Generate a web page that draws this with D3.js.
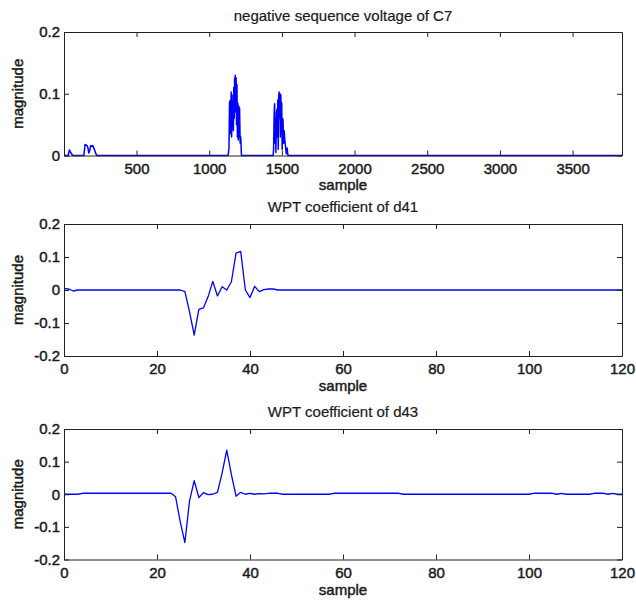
<!DOCTYPE html>
<html>
<head>
<meta charset="utf-8">
<script src="https://cdn.jsdelivr.net/npm/d3@7"></script>
<style>
  body { margin: 0; background: #fff; }
  svg text { font-family: "Liberation Sans", Arial, sans-serif; fill: #1a1a1a; }
</style>
</head>
<body>
<svg id="chart" width="636" height="603"></svg>
<script>
// negative sequence voltage of C7 (sparse points, zero elsewhere)
const c7Sample = [1, 30, 38, 45, 55, 62,
  138, 146, 152, 160, 166, 172, 178, 185, 192, 199, 206, 213, 220, 228,
  1130, 1136, 1140, 1143, 1146, 1149, 1151, 1154, 1157, 1160, 1163, 1166, 1169, 1172, 1175, 1177,
  1179, 1182, 1185, 1188, 1191, 1194, 1197, 1200, 1203, 1206, 1209, 1213, 1217, 1222,
  1440, 1443, 1447, 1450, 1453, 1456, 1459, 1463, 1466, 1469, 1472, 1475, 1478, 1481, 1484, 1487,
  1490, 1493, 1496, 1499, 1502, 1505, 1508, 1512, 1516, 1520, 1525, 1530, 1536, 1542, 3840];
const c7Value = [0, 0, 0.009, 0.006, 0.002, 0,
  0, 0.018, 0.017, 0.016, 0.012, 0.004, 0.008, 0.016, 0.015, 0.016, 0.012, 0.008, 0.003, 0,
  0, 0.012, 0.087, 0.035, 0.09, 0.055, 0.103, 0.03, 0.098, 0.045, 0.073, 0.04, 0.11, 0.06, 0.125, 0.07,
  0.13, 0.09, 0.126, 0.05, 0.115, 0.03, 0.085, 0.025, 0.08, 0.03, 0.077, 0.02, 0.03, 0,
  0, 0.01, 0.07, 0.084, 0.02, 0.06, 0.005, 0.07, 0.075, 0.03, 0.09, 0.01, 0.095, 0.103, 0.06, 0.1,
  0.03, 0.098, 0.05, 0.085, 0.01, 0.06, 0.057, 0.02, 0.04, 0.025, 0.015, 0.003, 0.012, 0, 0];

// WPT coefficient of d41, samples 0..120
const d41Value = [
  0.004, 0.003, -0.003, 0, 0, 0, 0, 0, 0, 0,
  0, 0, 0, 0, 0, 0, 0, 0, 0, 0,
  0, 0, 0, 0, 0, 0, -0.005, -0.066, -0.137, -0.059,
  -0.054, -0.02, 0.026, -0.018, 0.01, 0.0, 0.025, 0.112, 0.117, 0.0,
  -0.023, 0.011, -0.005, 0.001, 0.003, 0.003, 0, 0, 0, 0,
  0, 0, 0, 0, 0, 0, 0, 0, 0, 0,
  0, 0, 0, 0, 0, 0, 0, 0, 0, 0,
  0, 0, 0, 0, 0, 0, 0, 0, 0, 0,
  0, 0, 0, 0, 0, 0, 0, 0, 0, 0,
  0, 0, 0, 0, 0, 0, 0, 0, 0, 0,
  0, 0, 0, 0, 0, 0, 0, 0, 0, 0,
  0, 0, 0, 0, 0, 0, 0, 0, 0, 0,
  0];

// WPT coefficient of d43, samples 0..120
const d43Value = [
  0, 0, 0, 0, 0.003, 0.003, 0.003, 0.003, 0.003, 0.003,
  0.003, 0.003, 0.003, 0.003, 0.003, 0.003, 0.003, 0.003, 0.003, 0.003,
  0.003, 0.003, 0.003, 0.003, -0.008, -0.085, -0.148, -0.02, 0.042, -0.01,
  0.005, -0.001, 0.0, 0.006, 0.065, 0.135, 0.06, -0.006, 0.006, 0.0,
  0.003, 0.0, 0.002, 0.001, 0.003, 0.003, 0.003, 0, 0, 0,
  0, 0, 0, 0, 0, 0, 0, 0, 0.003, 0.003,
  0.003, 0.003, 0.003, 0.003, 0.003, 0.003, 0.003, 0.003, 0.003, 0.003,
  0.003, 0.003, 0.003, 0, 0, 0, 0, 0, 0, 0,
  0, 0, 0, 0, 0, 0, 0, 0, 0, 0,
  0, 0, 0, 0, 0, 0, 0, 0, 0, 0,
  0, 0.003, 0.003, 0.003, 0.003, 0.003, 0.0, 0.003, 0, 0,
  0, 0, 0, 0, 0.003, 0.003, 0.003, 0.0, 0.003, 0,
  0];

const c7XTicks = [500, 1000, 1500, 2000, 2500, 3000, 3500];
const c7YTicks = [0, 0.1, 0.2];
const c7YLabels = ['0', '0.1', '0.2'];
const wptXTicks = [0, 20, 40, 60, 80, 100, 120];
const wptYTicks = [-0.2, -0.1, 0, 0.1, 0.2];
const wptYLabels = ['-0.2', '-0.1', '0', '0.1', '0.2'];

const svg = d3.select('#chart');
const left = 64, right = 622;
const ink = '#1a1a1a';

// texto "semi-negrita": regular con un trazo fino
const semiBold = (sel) => sel
  .attr('font-size', 15).attr('font-weight', 'normal')
  .attr('fill', ink).attr('stroke', ink).attr('stroke-width', 0.45);

const drawPanel = (p) => {
  const x = d3.scaleLinear().domain(p.xDomain).range([left, right]);
  const y = d3.scaleLinear().domain(p.yDomain).range([p.bottom, p.top]);
  const g = svg.append('g');

  // linea de datos
  const pts = p.xs.map((s, i) => [s, p.ys[i]]);
  g.append('path')
    .datum(pts)
    .attr('fill', 'none')
    .attr('stroke', '#0000ff')
    .attr('stroke-width', p.lineWidth)
    .attr('stroke-linejoin', 'round')
    .attr('d', d3.line().x(d => x(d[0])).y(d => y(d[1])));

  // ejes (caja estilo matlab, ticks hacia dentro)
  const ylab = d3.scaleOrdinal().domain(p.yTicks).range(p.yLabels);
  const axB = g.append('g').attr('transform', `translate(0,${p.bottom})`)
    .call(d3.axisBottom(x).tickValues(p.xTicks).tickSizeInner(-5).tickSizeOuter(0).tickPadding(7.5).tickFormat(d3.format('d')));
  const axT = g.append('g').attr('transform', `translate(0,${p.top})`)
    .call(d3.axisTop(x).tickValues(p.xTicks).tickSizeInner(-5).tickSizeOuter(0).tickFormat(''));
  const axL = g.append('g').attr('transform', `translate(${left},0)`)
    .call(d3.axisLeft(y).tickValues(p.yTicks).tickSizeInner(-5).tickSizeOuter(0).tickPadding(4).tickFormat(d => ylab(d)));
  const axR = g.append('g').attr('transform', `translate(${right},0)`)
    .call(d3.axisRight(y).tickValues(p.yTicks).tickSizeInner(-5).tickSizeOuter(0).tickFormat(''));

  [axB, axT, axL, axR].forEach(a => {
    a.selectAll('path, line').attr('stroke', '#222').attr('stroke-width', 1);
    a.selectAll('text').attr('font-family', '"Liberation Sans", Arial, sans-serif').call(semiBold);
  });

  // titulo y etiquetas
  g.append('text')
    .attr('x', (left + right) / 2).attr('y', p.titleY)
    .attr('text-anchor', 'middle').attr('font-size', 15)
    .attr('fill', ink).attr('stroke', ink).attr('stroke-width', 0.2)
    .text(p.title);
  g.append('text')
    .attr('x', (left + right) / 2).attr('y', p.sampleY)
    .attr('text-anchor', 'middle')
    .call(semiBold)
    .text('sample');
  g.append('text')
    .attr('transform', `translate(23,${(p.top + p.bottom) / 2}) rotate(-90)`)
    .attr('text-anchor', 'middle')
    .call(semiBold)
    .text('magnitude');
};

drawPanel({
  title: 'negative sequence voltage of C7', titleY: 20.5, sampleY: 190,
  top: 32, bottom: 155.5, xDomain: [1, 3840], yDomain: [0, 0.2],
  xs: c7Sample, ys: c7Value, xTicks: c7XTicks, yTicks: c7YTicks, yLabels: c7YLabels, lineWidth: 1.5
});

drawPanel({
  title: 'WPT coefficient of d41', titleY: 212, sampleY: 391,
  top: 224, bottom: 356, xDomain: [0, 120], yDomain: [-0.2, 0.2],
  xs: d3.range(d41Value.length), ys: d41Value, xTicks: wptXTicks, yTicks: wptYTicks, yLabels: wptYLabels, lineWidth: 1.3
});

drawPanel({
  title: 'WPT coefficient of d43', titleY: 416.5, sampleY: 595,
  top: 429, bottom: 559.5, xDomain: [0, 120], yDomain: [-0.2, 0.2],
  xs: d3.range(d43Value.length), ys: d43Value, xTicks: wptXTicks, yTicks: wptYTicks, yLabels: wptYLabels, lineWidth: 1.3
});
</script>
</body>
</html>
